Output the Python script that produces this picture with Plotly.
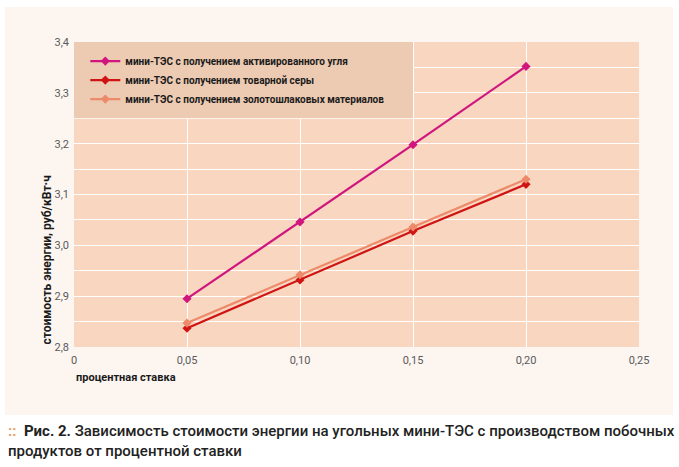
import plotly.graph_objects as go

# ---- data ----
rates = [0.05, 0.10, 0.15, 0.20]
coal_active = [2.895, 3.046, 3.198, 3.352]
sulfur = [2.837, 2.932, 3.028, 3.120]
ash_slag = [2.847, 2.942, 3.036, 3.130]
series_names = [
    "мини-ТЭС с получением активированного угля",
    "мини-ТЭС с получением товарной серы",
    "мини-ТЭС с получением золотошлаковых материалов",
]
x_ticks = [0, 0.05, 0.10, 0.15, 0.20, 0.25]
x_ticklabels = ["0", "0,05", "0,10", "0,15", "0,20", "0,25"]
y_ticks = [2.8, 2.9, 3.0, 3.1, 3.2, 3.3, 3.4]
y_ticklabels = ["2,8", "2,9", "3,0", "3,1", "3,2", "3,3", "3,4"]
y_minor = [2.85, 2.95, 3.05, 3.15, 3.25, 3.35]
x_title = "процентная ставка"
y_title = "стоимость энергии, руб/кВт·ч"
caption_l1 = "Зависимость стоимости энергии на угольных мини-ТЭС с производством побочных"
caption_l2 = "продуктов от процентной ставки"

FONT = "Roboto, Liberation Sans, sans-serif"
colors = ["#d0157f", "#d01414", "#ec8a6a"]

W, H = 679, 467
L, R, T, B = 74, 40, 42, 120
pw = W - L - R
ph = H - T - B

def px_x(p):
    return (p - L) / pw

def px_y(p):
    return (H - B - p) / ph

fig = go.Figure()
for vals, name, col in zip([coal_active, sulfur, ash_slag], series_names, colors):
    fig.add_trace(go.Scatter(
        x=rates, y=vals, name=name, mode="lines+markers",
        line=dict(color=col, width=2.2),
        marker=dict(symbol="diamond", size=7, color=col),
    ))

shapes = [
    # outer cream panel
    dict(type="rect", xref="paper", yref="paper",
         x0=px_x(5), x1=px_x(673), y0=px_y(415), y1=px_y(7),
         fillcolor="#fcf5f0", line_width=0, layer="below"),
    # plot area background
    dict(type="rect", xref="paper", yref="paper", x0=0, x1=1, y0=0, y1=1,
         fillcolor="#f8d6bf", line_width=0, layer="below"),
    # legend box
    dict(type="rect", xref="x", yref="y", x0=0, x1=0.15, y0=3.25, y1=3.4,
         fillcolor="#edcab2", line_width=0, layer="between"),
]

annotations = [
    dict(text="<b>" + y_title + "</b>", textangle=-90, xref="paper", yref="paper",
         x=px_x(46), y=0, xanchor="center", yanchor="bottom", showarrow=False,
         font=dict(family=FONT, size=12, color="#1a1a1a")),
    dict(text="<b>" + x_title + "</b>", xref="paper", yref="paper",
         x=0, y=px_y(377), xanchor="left", yanchor="middle", showarrow=False,
         font=dict(family=FONT, size=11, color="#1a1a1a")),
    dict(text='<span style="color:#e8a060"><b>::</b></span>  <b>Рис. 2.</b> ' + caption_l1
         + "<br>" + caption_l2,
         xref="paper", yref="paper", x=px_x(6), y=px_y(420), xanchor="left", yanchor="top",
         align="left", showarrow=False,
         font=dict(family=FONT, size=15, color="#222222", weight=500)),
]

fig.update_layout(
    width=W, height=H,
    margin=dict(l=L, r=R, t=T, b=B),
    paper_bgcolor="white",
    plot_bgcolor="#f8d6bf",
    font=dict(family=FONT, size=11, color="#555555"),
    showlegend=True,
    legend=dict(x=0.02, y=0.985, xanchor="left", yanchor="top",
                bgcolor="rgba(0,0,0,0)",
                font=dict(family=FONT, size=10, color="#1a1a1a", weight="bold"),
                tracegroupgap=0, itemwidth=30),
    shapes=shapes,
    annotations=annotations,
    xaxis=dict(range=[0, 0.25], tickvals=x_ticks, ticktext=x_ticklabels,
               showgrid=True, gridcolor="white", gridwidth=1.3, zeroline=False,
               showline=False, ticks="", ticklabelstandoff=5,
               tickfont=dict(family=FONT, size=11, color="#5a5a5a")),
    yaxis=dict(range=[2.8, 3.4], tickvals=y_ticks, ticktext=y_ticklabels,
               showgrid=True, gridcolor="white", gridwidth=1.3, zeroline=False,
               showline=False, ticks="", ticklabelstandoff=4,
               minor=dict(tickvals=y_minor, showgrid=True,
                          gridcolor="white", gridwidth=1.3),
               tickfont=dict(family=FONT, size=11, color="#5a5a5a")),
)

fig.write_html("out.html")
